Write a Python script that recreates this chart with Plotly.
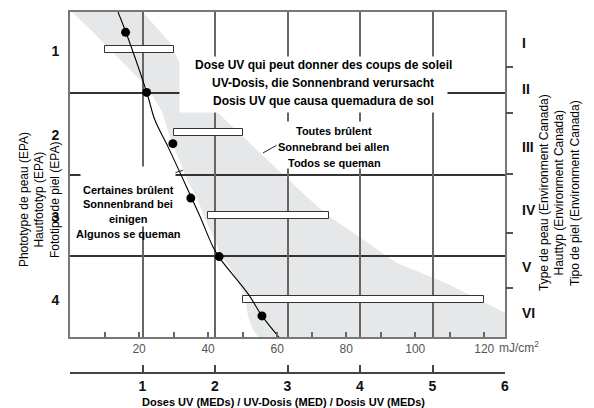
import plotly.graph_objects as go

# values (x in mJ/cm2, y in skin-type units, 0 = top)
dot_mj = [16.1, 22.2, 29.8, 35.0, 43.2, 55.6]
dot_y = [0.25, 0.99, 1.62, 2.29, 3.01, 3.74]

curve_mj = [13.9, 16.2, 22.3, 24.6, 28.4, 31.9, 34.8, 37.7, 41.4, 43.2, 51.6, 55.6, 60.5]
curve_y = [0.0, 0.25, 1.0, 1.33, 1.66, 1.98, 2.25, 2.52, 2.89, 3.02, 3.47, 3.74, 4.0]

range_start = [10, 30, 40, 50]
range_end = [30, 50, 75, 120]
range_y = [0.46, 1.48, 2.51, 3.54]

band_mj = [0.6, 21.1, 29.0, 31.9, 31.9, 42.6, 57.9, 69.5, 75.3, 94.7, 109.2, 126, 126,
           54.5, 53.0, 51.6, 50.7, 48.7, 46.4, 43.7, 41.1, 39.1, 36.8, 34.2, 31.9, 29.0, 26.7, 22.6, 6.7]
band_y = [0, 0, 0.38, 0.64, 1.23, 1.23, 1.85, 2.31, 2.52, 3.09, 3.34, 3.70, 4.0,
          4.0, 3.91, 3.75, 3.51, 3.32, 3.15, 2.99, 2.73, 2.54, 2.29, 2.09, 1.85, 1.55, 1.23, 0.935, 0.25]

epa_labels = ["1", "2", "3", "4"]
epa_pos = [0.48, 1.51, 2.52, 3.54]
epa_bounds = [1, 2, 3]

canada_labels = ["I", "II", "III", "IV", "V", "VI"]
canada_pos = [0.38, 0.95, 1.66, 2.44, 3.14, 3.70]
canada_bounds = [0.677, 1.243, 1.994, 2.72, 3.397]

mj_ticks = [20, 40, 60, 80, 100, 120]
mj_minor = [10, 30, 50, 70, 90, 110]
med_ticks = [0, 1, 2, 3, 4, 5, 6]
med_text = ["", "1", "2", "3", "4", "5", "6"]

dose_lines = ["Dose UV qui peut donner des coups de soleil", "UV-Dosis, die Sonnenbrand verursacht",
              "Dosis UV que causa quemadura de sol"]
dose_y = [0.652, 0.877, 1.095]
all_lines = ["Toutes brûlent", "Sonnebrand bei allen", "Todos se queman"]
all_y = [1.465, 1.66, 1.857]
some_lines = ["Certaines brûlent", "Sonnenbrand bei", "einigen", "Algunos se queman"]
some_y = [2.19, 2.363, 2.548, 2.732]

FONT = "Liberation Sans, Arial"


def bfont(size, color="black"):
    return dict(family=FONT, size=size, color=color, weight="bold")


fig = go.Figure()

fig.add_trace(go.Bar(orientation="h", y=range_y, base=range_start,
                     x=[e - s for s, e in zip(range_start, range_end)],
                     width=0.085, marker=dict(color="white", line=dict(color="#333", width=1)),
                     showlegend=False, hoverinfo="skip"))
fig.add_trace(go.Scatter(x=curve_mj, y=curve_y, mode="lines", line=dict(color="black", width=1.1, shape="spline"),
                         showlegend=False, hoverinfo="skip"))
fig.add_trace(go.Scatter(x=dot_mj, y=dot_y, mode="markers", marker=dict(color="black", size=9),
                         showlegend=False))
# empty traces so the extra axes get drawn
fig.add_trace(go.Scatter(x=[None], y=[None], xaxis="x2", yaxis="y", showlegend=False))
fig.add_trace(go.Scatter(x=[None], y=[None], xaxis="x", yaxis="y2", showlegend=False))

path = "M " + " L ".join(f"{a},{b}" for a, b in zip(band_mj, band_y)) + " Z"
fig.add_shape(type="path", path=path, xref="x", yref="y", layer="below",
              fillcolor="#e6e7e8", line=dict(width=0))

# pointer lines
fig.add_shape(type="line", x0=26.7, y0=2.02, x1=32.7, y1=1.95, line=dict(color="#222", width=1))
fig.add_shape(type="line", x0=55.9, y0=1.735, x1=60.0, y1=1.637, line=dict(color="#222", width=1))

# the page has an 8px body margin, so the figure is 8px smaller than the window
fig.update_layout(
    width=586, height=400,
    margin=dict(l=62, r=89, t=4, b=35, autoexpand=False),
    paper_bgcolor="white", plot_bgcolor="white",
    font=dict(family=FONT, color="black"),
    bargap=0,
    xaxis=dict(
        range=[0, 126], showgrid=False, zeroline=False, automargin=False,
        showline=True, linecolor="#777", linewidth=2, mirror=True,
        tickvals=mj_ticks, ticks="inside", ticklen=5, tickwidth=1.5, tickcolor="#666",
        tickfont=dict(size=12, color="#555", family=FONT),
        minor=dict(tickvals=mj_minor, ticks="inside", ticklen=5, tickwidth=1.5, tickcolor="#666"),
    ),
    xaxis2=dict(
        range=[0, 6], overlaying="x", anchor="free", position=0, side="bottom", automargin=False,
        showline=True, linecolor="#444", linewidth=2, zeroline=False,
        tickvals=med_ticks, ticktext=med_text, ticks="inside", ticklen=7, tickwidth=2, tickcolor="#444",
        tickfont=bfont(14, "#111"),
        showgrid=True, gridcolor="#666", gridwidth=1.8,
    ),
    yaxis=dict(
        domain=[36 / 361, 1], range=[4, 0], zeroline=False, automargin=False,
        showline=True, linecolor="#777", linewidth=2, mirror=True,
        tickvals=epa_pos, ticktext=epa_labels, ticks="", ticklabelstandoff=6,
        tickfont=bfont(14, "#111"),
        showgrid=False,
        minor=dict(tickvals=epa_bounds, showgrid=True, gridcolor="#333", gridwidth=1.5, ticks=""),
    ),
    yaxis2=dict(
        overlaying="y", side="right", range=[4, 0], zeroline=False, showgrid=False, automargin=False,
        tickvals=canada_pos, ticktext=canada_labels, ticks="", ticklabelstandoff=16,
        tickfont=bfont(14, "#111"),
        minor=dict(tickvals=canada_bounds, ticks="outside", ticklen=7, tickwidth=1.5, tickcolor="#555"),
    ),
)

# white backgrounds behind the text blocks (they break the grid lines)
box = dict(xref="x", yref="y", showarrow=False, text=" ", bgcolor="white", borderpad=0)
fig.add_annotation(x=70.5, y=0.892, width=267, height=55, **box)
fig.add_annotation(x=76.3, y=1.637, width=113, height=46, **box)
fig.add_annotation(x=16.8, y=2.271, width=94, height=59, **box)

for t, yv in zip(dose_lines, dose_y):
    fig.add_annotation(x=73.3, y=yv, xref="x", yref="y", showarrow=False, text=t, font=bfont(12))
for t, yv in zip(all_lines, all_y):
    fig.add_annotation(x=76.5, y=yv, xref="x", yref="y", showarrow=False, text=t, font=bfont(11))
for t, yv in zip(some_lines, some_y):
    fig.add_annotation(x=16.9, y=yv, xref="x", yref="y", showarrow=False, text=t, font=bfont(11))

fig.add_annotation(x=0.9816, y=0.072, xref="paper", yref="paper", xanchor="left", yanchor="middle",
                   showarrow=False, text="mJ/cm<sup>2</sup>",
                   font=dict(size=12, color="#555", family=FONT))
fig.add_annotation(x=0.49, y=-0.080, xref="paper", yref="paper", showarrow=False, yanchor="middle",
                   text="Doses UV (MEDs) / UV-Dosis (MED) / Dosis UV (MEDs)", font=bfont(11))

left_titles = ["Phototype de peau (EPA)", "Hautfototyp (EPA)", "Fototipo de piel (EPA)"]
for i, t in enumerate(left_titles):
    fig.add_annotation(x=(15 + 15.5 * i - 70) / 435, y=0.479, xref="paper", yref="paper",
                       showarrow=False, textangle=-90, text=t, font=dict(size=12, family=FONT))
right_titles = ["Type de peau (Environment Canada)", "Hauttyp (Environment Canada)",
                "Tipo de piel (Environment Canada)"]
for i, t in enumerate(right_titles):
    fig.add_annotation(x=(553 + 15.5 * i - 70) / 435, y=0.4986, xref="paper", yref="paper",
                       showarrow=False, textangle=-90, text=t, font=dict(size=12, family=FONT))

fig.write_html("out.html")
